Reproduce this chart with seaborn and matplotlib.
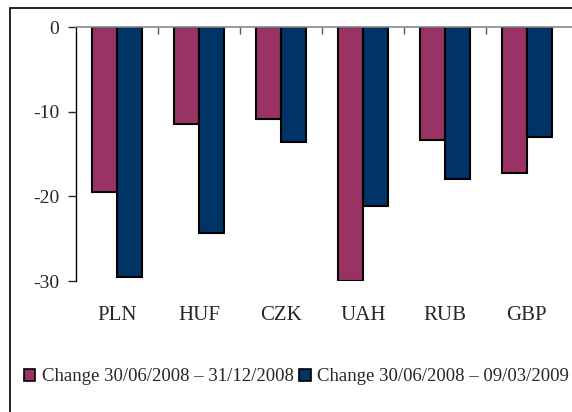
import pandas as pd
import numpy as np
import matplotlib
matplotlib.use("Agg")
import matplotlib.pyplot as plt
import seaborn as sns
from matplotlib.patches import Patch, Rectangle
from matplotlib.ticker import FixedLocator

# Data
currencies = ['PLN', 'HUF', 'CZK', 'UAH', 'RUB', 'GBP']
change_to_dec08 = [-19.5, -11.4, -10.9, -30.0, -13.4, -17.2]
change_to_mar09 = [-29.5, -24.3, -13.6, -21.2, -17.9, -13.0]
series_names = ['Change 30/06/2008 \u2013 31/12/2008',
                'Change 30/06/2008 \u2013 09/03/2009']
y_ticks = [0, -10, -20, -30]

df = pd.DataFrame({
    'Currency': currencies * 2,
    'Change': change_to_dec08 + change_to_mar09,
    'Period': [series_names[0]] * len(currencies) + [series_names[1]] * len(currencies),
})

sns.set_style("white")
plt.rcParams['font.family'] = ['Liberation Serif', 'DejaVu Serif']

colors = ['#993366', '#003366']

fig = plt.figure(figsize=(5.72, 4.12), dpi=100)
ax = fig.add_axes([76 / 572, 1 - 281 / 412, 496 / 572, 254 / 412])

sns.barplot(data=df, x='Currency', y='Change', hue='Period', order=currencies,
            hue_order=series_names, palette=colors, width=0.6, saturation=1,
            edgecolor='black', linewidth=1.5, ax=ax, legend=False)

ax.set_ylim(-30, 0)
ax.set_xlim(-0.5, len(currencies) - 0.45)
ax.set_yticks(y_ticks)
ax.set_yticklabels([str(t) for t in y_ticks], fontsize=14)
ax.set_xlabel('')
ax.set_ylabel('')

# category labels below the plot, tick marks between groups on the zero line
ax.tick_params(axis='x', which='major', length=0, labelsize=15, pad=18)
ax.xaxis.set_minor_locator(FixedLocator(np.arange(0.5, len(currencies) - 0.5, 1)))
ax.tick_params(axis='x', which='minor', top=True, bottom=False, direction='in',
               length=5, width=1, color='#555555')
ax.tick_params(axis='y', left=True, direction='out', length=6, width=1, pad=6)

for side in ['right', 'bottom']:
    ax.spines[side].set_visible(False)
ax.spines['left'].set_color('black')
ax.spines['left'].set_linewidth(1)
ax.spines['top'].set_color('#888888')
ax.spines['top'].set_linewidth(1.2)
ax.grid(False)

# legend
handles = [Patch(facecolor=c, edgecolor='black', linewidth=1.2) for c in colors]
fig.legend(handles, series_names, loc='center left', bbox_to_anchor=(0.042, 0.085),
           ncol=2, frameon=False, fontsize=13.5, handlelength=0.6, handleheight=0.6,
           handletextpad=0.35, columnspacing=0.3, borderaxespad=0, borderpad=0)

# outer frame (cropped on right and bottom)
fig.patches.append(Rectangle((10 / 572, -0.1), 1.2, 1 - 8 / 412 + 0.1,
                             transform=fig.transFigure, fill=False,
                             edgecolor='black', linewidth=1.2))

fig.savefig('out.png', dpi=100)
